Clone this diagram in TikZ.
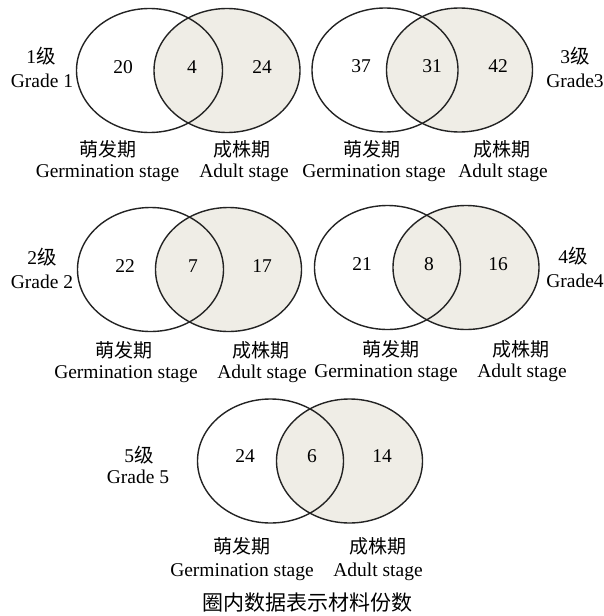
\documentclass[tikz,border=0pt]{standalone}
\usepackage{fontspec}
\setmainfont{Liberation Serif}
\newfontfamily\cjk{Noto Sans CJK SC}
\usetikzlibrary{shapes.geometric}
\definecolor{venngray}{RGB}{239,237,230}
\definecolor{vennline}{RGB}{35,35,35}
\tikzset{
  setL/.style={ellipse, draw=vennline, line width=1.4pt, minimum width=146pt, minimum height=124pt, inner sep=0pt},
  setR/.style={setL, fill=venngray},
  lbl/.style={anchor=base, inner sep=0pt, font=\fontsize{19.5}{22}\selectfont},
  zh/.style={anchor=base, inner sep=0pt, font=\fontsize{19}{22}\selectfont\cjk},
  captext/.style={anchor=base, inner sep=0pt, font=\fontsize{21}{24}\selectfont\cjk},
}
\begin{document}
\begin{tikzpicture}[x=1pt, y=-1pt]
\useasboundingbox[fill=white] (0,0) rectangle (604,616);
% ---------- Venn 1
\node[setR] (r1) at (227,70.5) {};
\node[setL] (l1) at (149.5,70.5) {};
\node[lbl] (g1a) at (41,63) {1{\cjk 级}};
\node[lbl] (g1b) at (42,87) {Grade 1};
\node[lbl] (n1a) at (123,73) {20};
\node[lbl] (n1b) at (192,73) {4};
\node[lbl] (n1c) at (262,73) {24};
\node[zh]  (s1a) at (108,156) {萌发期};
\node[lbl] (e1a) at (107.5,177) {Germination stage};
\node[zh]  (s1b) at (242,156) {成株期};
\node[lbl] (e1b) at (244,177) {Adult stage};
% ---------- Venn 3
\node[setR] (r3) at (459.5,70) {};
\node[setL] (l3) at (385,70) {};
\node[lbl] (g3a) at (575,63) {3{\cjk 级}};
\node[lbl] (g3b) at (575,87) {Grade3};
\node[lbl] (n3a) at (361,72) {37};
\node[lbl] (n3b) at (432,72) {31};
\node[lbl] (n3c) at (498,72) {42};
\node[zh]  (s3a) at (372,156) {萌发期};
\node[lbl] (e3a) at (374,177) {Germination stage};
\node[zh]  (s3b) at (502,156) {成株期};
\node[lbl] (e3b) at (503,177) {Adult stage};
% ---------- Venn 2
\node[setR] (r2) at (228.5,269.5) {};
\node[setL] (l2) at (150.5,269.5) {};
\node[lbl] (g2a) at (42,264) {2{\cjk 级}};
\node[lbl] (g2b) at (42,288) {Grade 2};
\node[lbl] (n2a) at (125,272) {22};
\node[lbl] (n2b) at (193,272) {7};
\node[lbl] (n2c) at (262,272) {17};
\node[zh]  (s2a) at (124,357) {萌发期};
\node[lbl] (e2a) at (126,378) {Germination stage};
\node[zh]  (s2b) at (261,357) {成株期};
\node[lbl] (e2b) at (262,378) {Adult stage};
% ---------- Venn 4
\node[setR] (r4) at (466,267.5) {};
\node[setL] (l4) at (387.5,267.5) {};
\node[lbl] (g4a) at (573,263) {4{\cjk 级}};
\node[lbl] (g4b) at (575,287) {Grade4};
\node[lbl] (n4a) at (362,270) {21};
\node[lbl] (n4b) at (429,270) {8};
\node[lbl] (n4c) at (498,270) {16};
\node[zh]  (s4a) at (391,356) {萌发期};
\node[lbl] (e4a) at (386,377) {Germination stage};
\node[zh]  (s4b) at (521,356) {成株期};
\node[lbl] (e4b) at (522,377) {Adult stage};
% ---------- Venn 5
\node[setR] (r5) at (349.5,461) {};
\node[setL] (l5) at (270.5,461) {};
\node[lbl] (g5a) at (139,462) {5{\cjk 级}};
\node[lbl] (g5b) at (138,483) {Grade 5};
\node[lbl] (n5a) at (245,462) {24};
\node[lbl] (n5b) at (312,462) {6};
\node[lbl] (n5c) at (382,462) {14};
\node[zh]  (s5a) at (242,553) {萌发期};
\node[lbl] (e5a) at (242,576) {Germination stage};
\node[zh]  (s5b) at (378,553) {成株期};
\node[lbl] (e5b) at (378,576) {Adult stage};
% ---------- caption
\node[captext] (caption) at (307,610) {圈内数据表示材料份数};
\end{tikzpicture}
\end{document}
